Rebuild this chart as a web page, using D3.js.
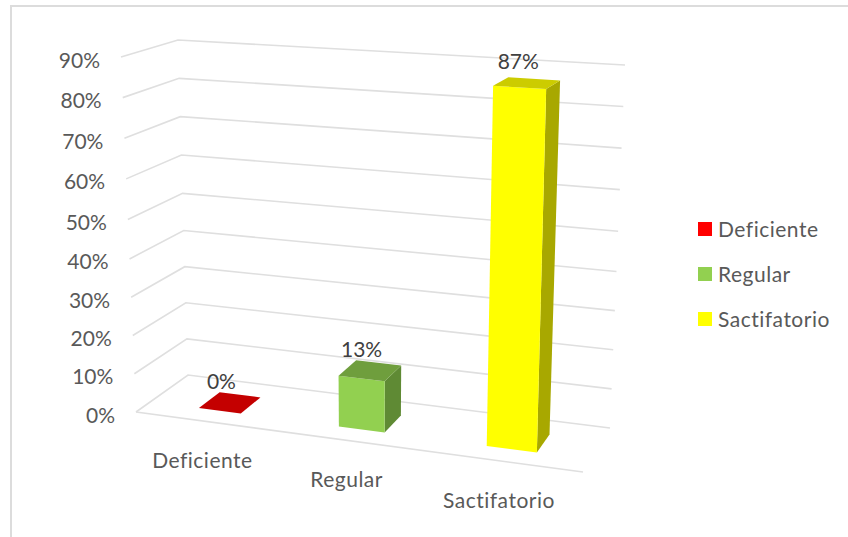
<!DOCTYPE html>
<html>
  <head>
    <meta charset="utf-8"/>
    <style>
html, body {
  margin: 0;
  background: #fff;
}
svg {
  display: block;
}
text {
  font-family: Lato, sans-serif;
  font-size: 21px;
  fill: #595959;
}
.word {
  letter-spacing: 0.5px;
}
.grid {
  fill: none;
  stroke: #dfdfdf;
  stroke-width: 1.6;
}
    </style>
  </head>
  <body>
    <svg id="chart" width="848" height="537"></svg>
    <script src="https://cdnjs.cloudflare.com/ajax/libs/d3/7.8.5/d3.min.js"></script>
    <script>
const categories = ["Deficiente", "Regular", "Sactifatorio"];
const values = [0, 13, 87];
const tickValues = [0, 10, 20, 30, 40, 50, 60, 70, 80, 90];
const faceColors = ["#ff0000", "#92d050", "#ffff00"];
const topColors = ["#c40000", "#6f9e3d", "#cccc00"];
const sideColors = ["#a00000", "#5f8a34", "#a8a800"];

// corners of the 3d box as it lands on the page
const floor = { fl: [136, 412], fr: [583, 472], bl: [188, 375], br: [610, 428] };
const roof = { fl: [121, 57], fr: [595, 85], bl: [178, 40], br: [625, 65] };

// bars are not evenly spaced once the perspective is applied
const band = d3.scaleOrdinal().domain(categories).range([[0.11, 0.205], [0.428, 0.532], [0.764, 0.878]]);
const barDepth = [0.28, 0.7];

const height = d3.scaleLinear().domain([0, 45, 90]).range([0, 0.485, 1]);

function onPlane(q, u, v) {
  const front = d3.interpolate(q.fl, q.fr)(u),
      back = d3.interpolate(q.bl, q.br)(u);
  return d3.interpolate(front, back)(v);
}

// u along the categories, v into the page, h the value
function project(u, v, h) {
  return d3.interpolate(onPlane(floor, u, v), onPlane(roof, u, v))(height(h));
}

const svg = d3.select("#chart");
const line = d3.line();

svg.append("rect")
    .attr("x", 11)
    .attr("y", 6)
    .attr("width", 900)
    .attr("height", 600)
    .attr("fill", "#fff")
    .attr("stroke", "#dcdcdc")
    .attr("stroke-width", 2);

svg.append("g")
  .selectAll("path")
  .data(tickValues)
  .join("path")
    .attr("class", "grid")
    .attr("d", d => line([project(0, 0, d), project(0, 1, d), project(1, 1, d)]));

svg.append("path")
    .attr("class", "grid")
    .attr("d", line([floor.fl, floor.fr]));

svg.append("g")
  .selectAll("text")
  .data(tickValues)
  .join("text")
    .attr("x", d => project(0, 0, d)[0] - 21)
    .attr("y", d => project(0, 0, d)[1] + 2)
    .attr("text-anchor", "end")
    .attr("dominant-baseline", "central")
    .text(d => d + "%");

svg.append("g")
  .selectAll("text")
  .data(categories)
  .join("text")
    .attr("class", "word")
    .attr("x", d => project(d3.mean(band(d)), 0, 0)[0] - 4)
    .attr("y", d => project(d3.mean(band(d)), 0, 0)[1] + 38)
    .attr("text-anchor", "middle")
    .attr("dominant-baseline", "central")
    .text(d => d);

const bars = svg.append("g")
  .selectAll("g")
  .data(categories)
  .join("g");

bars.append("path")
    .attr("fill", (d, i) => sideColors[i])
    .attr("d", (d, i) => {
      const u = band(d)[1];
      return line([project(u, barDepth[0], 0), project(u, barDepth[1], 0), project(u, barDepth[1], values[i]), project(u, barDepth[0], values[i])]) + "Z";
    });

bars.append("path")
    .attr("fill", (d, i) => faceColors[i])
    .attr("d", (d, i) => {
      const [u0, u1] = band(d);
      return line([project(u0, barDepth[0], 0), project(u1, barDepth[0], 0), project(u1, barDepth[0], values[i]), project(u0, barDepth[0], values[i])]) + "Z";
    });

bars.append("path")
    .attr("fill", (d, i) => topColors[i])
    .attr("d", (d, i) => {
      const [u0, u1] = band(d);
      return line([project(u0, barDepth[0], values[i]), project(u1, barDepth[0], values[i]), project(u1, barDepth[1], values[i]), project(u0, barDepth[1], values[i])]) + "Z";
    });

bars.append("text")
    .attr("x", (d, i) => project(d3.mean(band(d)), 0.5, values[i])[0] - 9)
    .attr("y", (d, i) => project(d3.mean(band(d)), 0.5, values[i])[1] - 22)
    .attr("text-anchor", "middle")
    .attr("dominant-baseline", "central")
    .style("fill", "#404040")
    .text((d, i) => values[i] + "%");

const legend = svg.append("g")
  .selectAll("g")
  .data(categories)
  .join("g")
    .attr("transform", (d, i) => `translate(698,${222 + i * 45})`);

legend.append("rect")
    .attr("width", 14)
    .attr("height", 14)
    .attr("fill", (d, i) => faceColors[i]);

legend.append("text")
    .attr("class", "word")
    .attr("x", 20)
    .attr("y", 6)
    .attr("dominant-baseline", "central")
    .text(d => d);
    </script>
  </body>
</html>
